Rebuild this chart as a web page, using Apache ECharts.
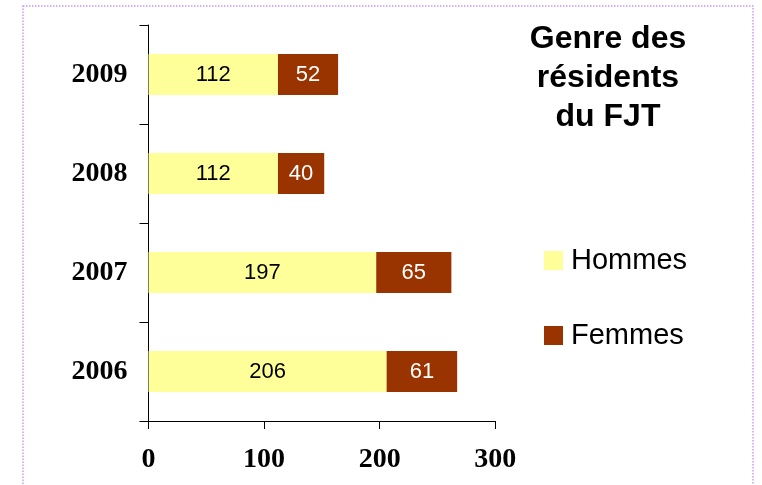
<!DOCTYPE html>
<html>
<head>
<meta charset="utf-8">
<script src="https://cdn.jsdelivr.net/npm/echarts@6/dist/echarts.min.js"></script>
<style>
  html, body { margin: 0; padding: 0; background: #fff; }
  #chart { width: 762px; height: 485px; }
</style>
</head>
<body>
<div id="chart"></div>
<script>
// data
const years = ['2006', '2007', '2008', '2009'];
const hommes = [206, 197, 112, 112];
const femmes = [61, 65, 40, 52];
const xTicks = { min: 0, max: 300, step: 100 };

const serif = '"Liberation Serif", "Times New Roman", serif';
const sans = '"Liberation Sans", Arial, sans-serif';

const chart = echarts.init(document.getElementById('chart'));
chart.setOption({
  animation: false,
  title: {
    text: 'Genre des\nrésidents\ndu FJT',
    left: 608,
    top: 20,
    padding: 0,
    textAlign: 'center',
    textStyle: { fontFamily: sans, fontSize: 32, fontWeight: 'bold', color: '#000', lineHeight: 39 }
  },
  legend: {
    orient: 'vertical',
    left: 544,
    top: 246,
    padding: 0,
    itemWidth: 19,
    itemHeight: 19,
    itemGap: 46,
    icon: 'rect',
    data: ['Hommes', 'Femmes'],
    textStyle: { fontFamily: sans, fontSize: 29, lineHeight: 29, color: '#000', padding: [0, 0, 0, 3] }
  },
  graphic: [{
    type: 'rect',
    shape: { x: 23, y: 6, width: 730, height: 520 },
    style: { fill: 'none', stroke: '#cc99ff', lineWidth: 1.5, lineDash: [1.5, 1.5] },
    silent: true
  }],
  grid: {
    left: 148.5, right: 266.7, top: 25, bottom: 64,
    containLabel: false, outerBoundsMode: 'none'
  },
  xAxis: {
    type: 'value',
    min: xTicks.min, max: xTicks.max, interval: xTicks.step,
    splitLine: { show: false },
    axisLine: { show: true, lineStyle: { color: '#000', width: 1 } },
    axisTick: { show: true, length: 8, lineStyle: { color: '#000' } },
    axisLabel: { margin: 25, fontFamily: serif, fontSize: 28, fontWeight: 'bold', color: '#000' }
  },
  yAxis: {
    type: 'category',
    data: years,
    axisLine: { show: true, lineStyle: { color: '#000', width: 1 } },
    axisTick: { show: true, length: 9, lineStyle: { color: '#000' } },
    axisLabel: { margin: 21, fontFamily: serif, fontSize: 28, fontWeight: 'bold', color: '#000' }
  },
  series: [
    {
      name: 'Hommes', type: 'bar', stack: 'total', data: hommes, barWidth: 41,
      itemStyle: { color: '#ffff99' },
      label: { show: true, position: 'inside', fontFamily: sans, fontSize: 22, color: '#000' }
    },
    {
      name: 'Femmes', type: 'bar', stack: 'total', data: femmes, barWidth: 41,
      itemStyle: { color: '#993300' },
      label: { show: true, position: 'inside', fontFamily: sans, fontSize: 22, color: '#fff' }
    }
  ]
});
</script>
</body>
</html>
